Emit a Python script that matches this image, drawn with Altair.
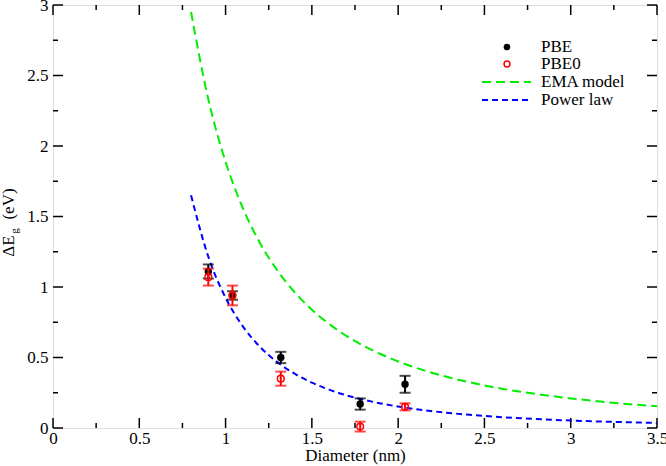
import altair as alt
import pandas as pd

# Band-gap shift (eV) versus nanowire diameter (nm)
pbe_d = [0.90, 1.04, 1.32, 1.78, 2.04]
pbe_e = [1.11, 0.94, 0.50, 0.17, 0.31]
pbe_err = [0.05, 0.03, 0.04, 0.04, 0.06]

pbe0_d = [0.90, 1.04, 1.32, 1.78, 2.04]
pbe0_e = [1.07, 0.94, 0.35, 0.01, 0.15]
pbe0_err = [0.06, 0.07, 0.05, 0.035, 0.025]

# Model curves sampled along the diameter axis
curve_d = [0.8, 0.9, 1.0, 1.1, 1.2, 1.3, 1.4, 1.5, 1.6, 1.7, 1.8, 1.9, 2.0,
           2.2, 2.4, 2.6, 2.8, 3.0, 3.2, 3.5]
ema_e = [2.95, 2.331, 1.888, 1.560, 1.311, 1.117, 0.963, 0.839, 0.738, 0.653,
         0.583, 0.523, 0.472, 0.390, 0.328, 0.279, 0.241, 0.210, 0.184, 0.154]
power_e = [1.65, 1.215, 0.924, 0.721, 0.575, 0.467, 0.385, 0.322, 0.272, 0.232,
           0.200, 0.174, 0.152, 0.119, 0.095, 0.077, 0.064, 0.053, 0.045, 0.036]

x_major = [0, 0.5, 1, 1.5, 2, 2.5, 3, 3.5]
x_minor = [0.25, 0.75, 1.25, 1.75, 2.25, 2.75, 3.25]
y_major = [0, 0.5, 1, 1.5, 2, 2.5, 3]
y_minor = [0.25, 0.75, 1.25, 1.75, 2.25, 2.75]

legend_labels = ["PBE", "PBE0", "EMA model", "Power law"]

W, H = 604, 423
FONT = "'Liberation Serif', 'Times New Roman', serif"
GREEN, BLUE, RED = "#00ee00", "#0000ff", "#ff0000"

xs = alt.Scale(domain=[0, 3.5], nice=False, zero=False)
ys = alt.Scale(domain=[0, 3], nice=False, zero=False)

x_axis = alt.Axis(values=x_major, ticks=False, domain=False, grid=False,
                  labelFont=FONT, labelFontSize=17, labelColor="black",
                  labelPadding=2, labelFlush=False, title="Diameter (nm)",
                  titleFont=FONT, titleFontSize=17, titleFontWeight="normal",
                  titleColor="black", titlePadding=1, labelExpr="datum.value + ''")
y_axis = alt.Axis(values=y_major, ticks=False, domain=False, grid=False,
                  labelFont=FONT, labelFontSize=17, labelColor="black",
                  labelPadding=5, labelFlush=False, title=None,
                  labelExpr="datum.value + ''")

pbe = pd.DataFrame({"d": pbe_d, "e": pbe_e,
                    "lo": [v - s for v, s in zip(pbe_e, pbe_err)],
                    "hi": [v + s for v, s in zip(pbe_e, pbe_err)]})
pbe0 = pd.DataFrame({"d": pbe0_d, "e": pbe0_e,
                     "lo": [v - s for v, s in zip(pbe0_e, pbe0_err)],
                     "hi": [v + s for v, s in zip(pbe0_e, pbe0_err)]})
curves = pd.DataFrame({"d": curve_d, "ema": ema_e, "power": power_e})

X = alt.X("d:Q", scale=xs, axis=x_axis)


def error_bars(df, color):
    bars = alt.Chart(df).mark_rule(color=color, strokeWidth=2).encode(
        x=alt.X("d:Q", scale=xs), y=alt.Y("lo:Q", scale=ys), y2="hi:Q")
    lo_cap = alt.Chart(df).mark_tick(color=color, thickness=2, size=11, orient="horizontal").encode(
        x=alt.X("d:Q", scale=xs), y=alt.Y("lo:Q", scale=ys))
    hi_cap = alt.Chart(df).mark_tick(color=color, thickness=2, size=11, orient="horizontal").encode(
        x=alt.X("d:Q", scale=xs), y=alt.Y("hi:Q", scale=ys))
    return bars + lo_cap + hi_cap


base = alt.Chart(curves).mark_point(opacity=0).encode(x=X, y=alt.Y("ema:Q", scale=ys, axis=y_axis))

ema_line = alt.Chart(curves).mark_line(color=GREEN, strokeWidth=2, strokeDash=[9, 5],
                                       interpolate="monotone").encode(
    x=alt.X("d:Q", scale=xs), y=alt.Y("ema:Q", scale=ys))
power_line = alt.Chart(curves).mark_line(color=BLUE, strokeWidth=2, strokeDash=[6, 4],
                                         interpolate="monotone").encode(
    x=alt.X("d:Q", scale=xs), y=alt.Y("power:Q", scale=ys))

pbe_pts = alt.Chart(pbe).mark_point(filled=True, color="black", size=55, opacity=1).encode(
    x=alt.X("d:Q", scale=xs), y=alt.Y("e:Q", scale=ys))
pbe0_pts = alt.Chart(pbe0).mark_point(filled=False, color=RED, size=45, strokeWidth=1.5,
                                      opacity=1).encode(
    x=alt.X("d:Q", scale=xs), y=alt.Y("e:Q", scale=ys))

# Inward tick marks on all four sides of the frame
xmaj = pd.DataFrame({"t": x_major})
xmin = pd.DataFrame({"t": x_minor})
ymaj = pd.DataFrame({"t": y_major})
ymin = pd.DataFrame({"t": y_minor})


def xticks(df, length):
    bottom = alt.Chart(df).mark_rule(color="black", strokeWidth=1.5).encode(
        x=alt.X("t:Q", scale=xs), y=alt.value(H), y2=alt.value(H - length))
    top = alt.Chart(df).mark_rule(color="black", strokeWidth=1.5).encode(
        x=alt.X("t:Q", scale=xs), y=alt.value(0), y2=alt.value(length))
    return bottom + top


def yticks(df, length):
    left = alt.Chart(df).mark_rule(color="black", strokeWidth=1.5).encode(
        y=alt.Y("t:Q", scale=ys), x=alt.value(0), x2=alt.value(length))
    right = alt.Chart(df).mark_rule(color="black", strokeWidth=1.5).encode(
        y=alt.Y("t:Q", scale=ys), x=alt.value(W), x2=alt.value(W - length))
    return left + right


ticks = xticks(xmaj, 10) + xticks(xmin, 5) + yticks(ymaj, 10) + yticks(ymin, 5)

# Y-axis title with subscript g
one = pd.DataFrame({"a": [0]})
ytitle = (
    alt.Chart(one).mark_text(text="ΔE", font=FONT, fontSize=17, angle=270,
                             align="center", baseline="alphabetic", color="black").encode(
        x=alt.value(-39), y=alt.value(241))
    + alt.Chart(one).mark_text(text="g", font=FONT, fontSize=11, angle=270,
                               align="center", baseline="alphabetic", color="black").encode(
        x=alt.value(-35), y=alt.value(226))
    + alt.Chart(one).mark_text(text="(eV)", font=FONT, fontSize=17, angle=270,
                               align="center", baseline="alphabetic", color="black").encode(
        x=alt.value(-39), y=alt.value(199))
)

# Legend box in the upper right
leg_y = [42, 59, 77, 95]
legend_text = alt.layer(*[
    alt.Chart(one).mark_text(text=lab, font=FONT, fontSize=17, align="left",
                             baseline="middle", color="black").encode(
        x=alt.value(488), y=alt.value(yy))
    for lab, yy in zip(legend_labels, leg_y)
])
legend_marks = (
    alt.Chart(one).mark_point(filled=True, color="black", size=45, opacity=1).encode(
        x=alt.value(454), y=alt.value(leg_y[0]))
    + alt.Chart(one).mark_point(filled=False, color=RED, size=35, strokeWidth=1.5, opacity=1).encode(
        x=alt.value(454), y=alt.value(leg_y[1]))
    + alt.Chart(one).mark_rule(color=GREEN, strokeWidth=2, strokeDash=[9, 5]).encode(
        x=alt.value(429), x2=alt.value(478), y=alt.value(leg_y[2]))
    + alt.Chart(one).mark_rule(color=BLUE, strokeWidth=2, strokeDash=[6, 4]).encode(
        x=alt.value(429), x2=alt.value(478), y=alt.value(leg_y[3]))
)

chart = alt.layer(
    base, ticks, ema_line, power_line,
    error_bars(pbe, "black"), pbe_pts,
    error_bars(pbe0, RED), pbe0_pts,
    ytitle, legend_marks, legend_text,
).properties(
    width=W, height=H,
    padding={"left": 53, "top": 5, "right": 9, "bottom": 38},
    autosize=alt.AutoSizeParams(type="none"),
).configure_view(
    stroke="black", strokeWidth=2,
).configure(background="white")

chart.save("out.html", embed_options={"renderer": "svg", "actions": False})
